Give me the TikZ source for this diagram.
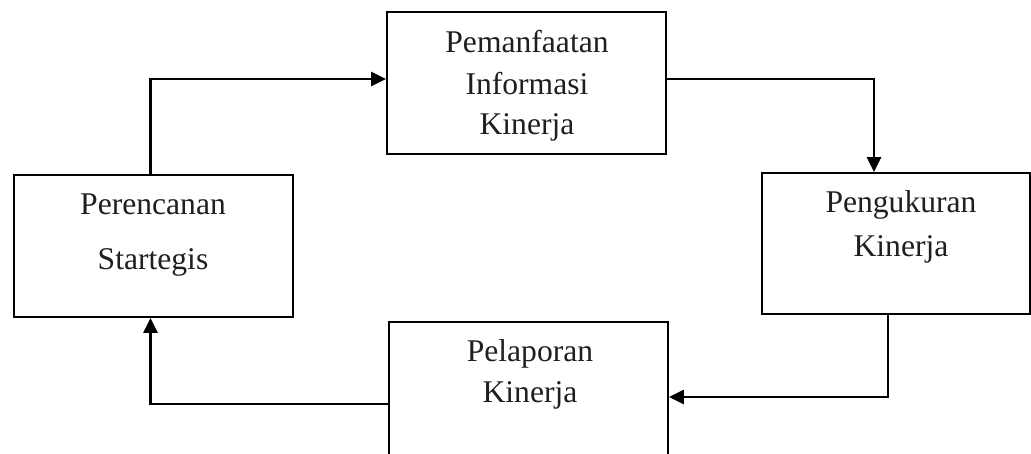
\documentclass[tikz,border=0pt]{standalone}
\usepackage{fontspec}
\setmainfont{Liberation Serif}
\usetikzlibrary{arrows.meta}
\begin{document}
\begin{tikzpicture}[x=1pt,y=-1pt,
  box/.style={draw=black,line width=1.8pt,rectangle,inner sep=0pt,fill=none},
  lbl/.style={anchor=base,inner sep=0pt,font=\fontsize{31.6}{38}\selectfont,text=black!88},
  conn/.style={draw=black,line width=2.4pt,-{Triangle[length=15pt,width=14pt]}}]
\useasboundingbox[fill=white] (0,0) rectangle (1031,454);
% boxes
\node[box,minimum width=279pt,minimum height=142pt] (top) at (526.5,83) {};
\node[box,minimum width=279pt,minimum height=142pt] (left) at (153.5,246) {};
\node[box,minimum width=268pt,minimum height=141pt] (right) at (896,243.5) {};
\node[box,minimum width=279pt,minimum height=140pt] (bot) at (528.5,392) {};
% texts
\node[lbl] (t1) at (527,53) {Pemanfaatan};
\node[lbl] (t2) at (527,95) {Informasi};
\node[lbl] (t3) at (527,135) {Kinerja};
\node[lbl] (l1) at (153,215) {Perencanan};
\node[lbl] (l2) at (153,270) {Startegis};
\node[lbl] (r1) at (901,213) {Pengukuran};
\node[lbl] (r2) at (901,257) {Kinerja};
\node[lbl] (b1) at (530,362) {Pelaporan};
\node[lbl] (b2) at (530,402) {Kinerja};
% connectors
\draw[conn] ([xshift=-3pt]left.north) |- ([yshift=4pt]top.west);
\draw[conn] ([yshift=4pt]top.east) -| ([xshift=-22pt]right.north);
\draw[conn] ([xshift=-8pt]right.south) |- ([yshift=-5pt]bot.east);
\draw[conn] ([yshift=-12pt]bot.west) -| ([xshift=-3pt]left.south);
\end{tikzpicture}
\end{document}
